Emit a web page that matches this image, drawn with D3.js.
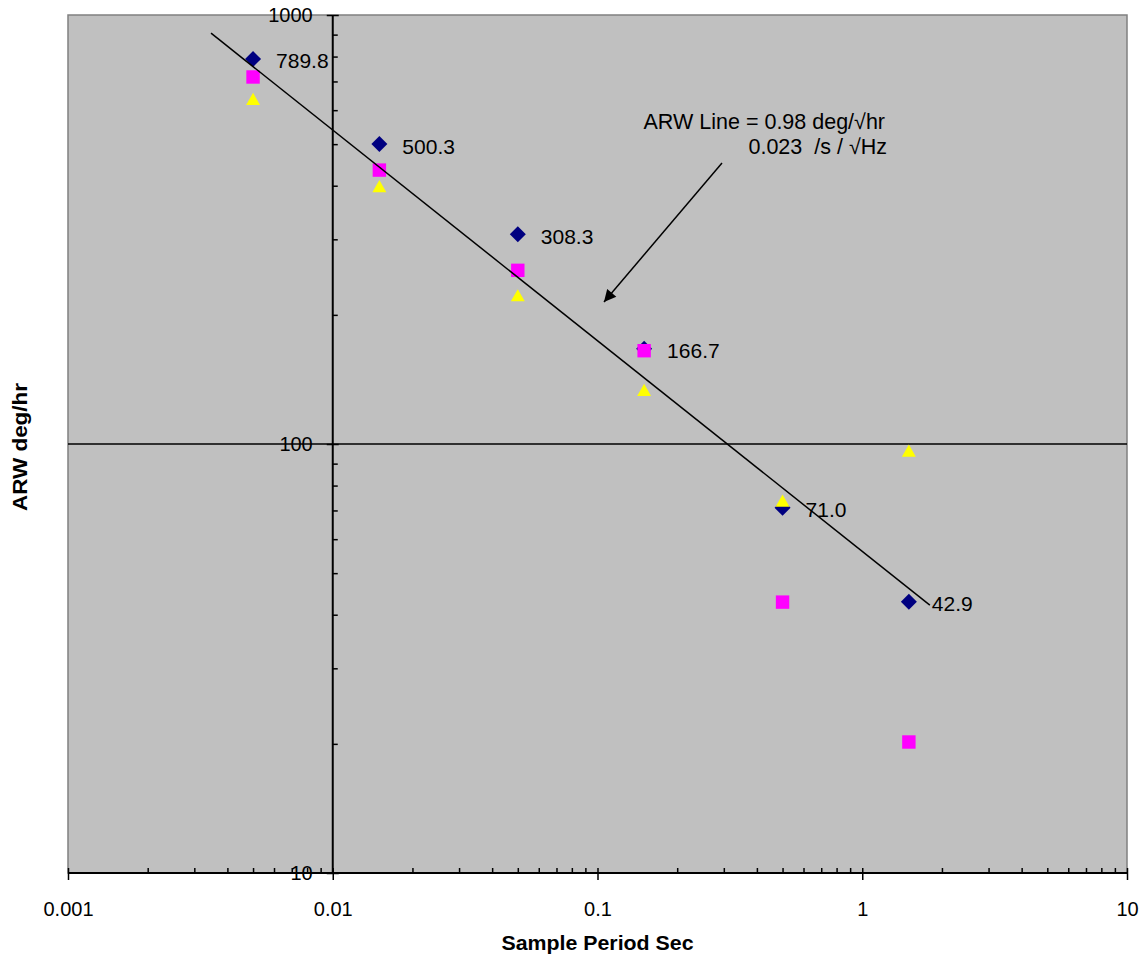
<!DOCTYPE html>
<html>
<head>
<meta charset="utf-8">
<script src="https://cdn.jsdelivr.net/npm/d3@7"></script>
<style>
  html, body { margin: 0; padding: 0; background: #ffffff; }
  svg { display: block; }
  text { font-family: "Liberation Sans", Arial, sans-serif; fill: #000; }
</style>
</head>
<body>
<svg id="chart" width="1145" height="956"></svg>
<script>
// ---- data ----
const samplePeriods = [0.005, 0.015, 0.05, 0.15, 0.5, 1.5];
const seriesDiamond = [789.8, 500.3, 308.3, 166.7, 71.0, 42.9];
const seriesSquare  = [717, 435, 254, 165, 42.8, 20.2];
const seriesTriangle = [634, 397, 221, 133, 73.4, 96];
const diamondLabels = ["789.8", "500.3", "308.3", "166.7", "71.0", "42.9"];
const arwLineX = [0.00347, 1.80];
const arwLineY = [907, 42.1];
const arrowX = [0.2953, 0.1058];
const arrowY = [451.8, 214.3];
const noteLines = ["ARW Line = 0.98 deg/\u221Ahr", "0.023  /s / \u221AHz"];
const noteX = [1.219, 1.240];
const noteY = [542.5, 474];
const xMajorTicks = [0.001, 0.01, 0.1, 1, 10];
const xTickLabels = ["0.001", "0.01", "0.1", "1", "10"];
const yMajorTicks = [10, 100, 1000];
const yTickLabels = ["10", "100", "1000"];
const xTitle = "Sample Period Sec";
const yTitle = "ARW deg/hr";

// ---- layout ----
const L = 68, R = 1127, T = 15, B = 873;
const svg = d3.select("#chart");
const x = d3.scaleLog().domain([0.001, 10]).range([L, R]);
const y = d3.scaleLog().domain([10, 1000]).range([B, T]);

const minorOf = (lo, hi) => {
  const out = [];
  for (let d = lo; d < hi; d *= 10) for (let k = 2; k <= 9; k++) out.push(d * k);
  return out;
};
const xMinor = minorOf(0.001, 10);
const yMinor = minorOf(10, 1000);

// plot area
svg.append("rect").attr("x", L).attr("y", T).attr("width", R - L).attr("height", B - T)
  .attr("fill", "#C0C0C0").attr("stroke", "#808080").attr("stroke-width", 1.5);

// horizontal major gridlines
svg.append("g").selectAll("line").data(yMajorTicks.filter(v => v > 10 && v < 1000)).join("line")
  .attr("x1", L).attr("x2", R).attr("y1", d => y(d)).attr("y2", d => y(d))
  .attr("stroke", "#000").attr("stroke-width", 1.5);

const axisX0 = x(0.01);

function styleAxis(g) {
  g.select(".domain").remove();
  g.selectAll(".tick line").attr("stroke", "#000").attr("stroke-width", 1.5);
  g.selectAll(".tick text").attr("font-size", 20).attr("font-family", '"Liberation Sans", Arial, sans-serif').attr("fill", "#000");
}

// Y axis (crossing at x = 0.01)
svg.append("g").attr("transform", `translate(${axisX0},0)`)
  .call(d3.axisRight(y).tickValues(yMinor).tickSize(5).tickFormat(""))
  .call(styleAxis);
svg.append("g").attr("transform", `translate(${axisX0},0)`)
  .call(d3.axisRight(y).tickValues(yMajorTicks).tickSize(6).tickFormat(""))
  .call(styleAxis);
svg.append("g").attr("transform", `translate(${axisX0},0)`)
  .call(d3.axisLeft(y).tickValues(yMajorTicks).tickSize(6).tickPadding(14)
    .tickFormat((d, i) => yTickLabels[i]))
  .call(styleAxis);
svg.append("line").attr("x1", axisX0).attr("x2", axisX0).attr("y1", T).attr("y2", B)
  .attr("stroke", "#000").attr("stroke-width", 2);

// X axis (bottom)
svg.append("g").attr("transform", `translate(0,${B})`)
  .call(d3.axisTop(x).tickValues(xMinor).tickSize(5).tickFormat(""))
  .call(styleAxis);
svg.append("g").attr("transform", `translate(0,${B})`)
  .call(d3.axisTop(x).tickValues(xMajorTicks).tickSize(5).tickFormat(""))
  .call(styleAxis);
svg.append("g").attr("transform", `translate(0,${B})`)
  .call(d3.axisBottom(x).tickValues(xMajorTicks).tickSize(7).tickPadding(22)
    .tickFormat((d, i) => xTickLabels[i]))
  .call(styleAxis);
svg.append("line").attr("x1", L).attr("x2", R).attr("y1", B).attr("y2", B)
  .attr("stroke", "#000").attr("stroke-width", 2);

// markers
const pts = (vals) => samplePeriods.map((p, i) => ({ p, v: vals[i] }));
svg.append("g").selectAll("path").data(pts(seriesDiamond)).join("path")
  .attr("d", d3.symbol(d3.symbolSquare, 128)())
  .attr("transform", d => `translate(${x(d.p)},${y(d.v)}) rotate(45)`)
  .attr("fill", "#000080");
svg.append("g").selectAll("path").data(pts(seriesSquare)).join("path")
  .attr("d", d3.symbol(d3.symbolSquare, 180)())
  .attr("transform", d => `translate(${x(d.p)},${y(d.v)})`)
  .attr("fill", "#FF00FF");
svg.append("g").selectAll("path").data(pts(seriesTriangle)).join("path")
  .attr("d", d3.symbol(d3.symbolTriangle, 84)())
  .attr("transform", d => `translate(${x(d.p)},${y(d.v) + 1})`)
  .attr("fill", "#FFFF00");

// ARW trend line
const line = d3.line().x(d => x(d[0])).y(d => y(d[1]));
svg.append("path").datum(arwLineX.map((v, i) => [v, arwLineY[i]]))
  .attr("d", line).attr("fill", "none").attr("stroke", "#000").attr("stroke-width", 1.5);

// data labels
svg.append("g").selectAll("text").data(pts(seriesDiamond)).join("text")
  .attr("x", d => x(d.p) + 23).attr("y", d => y(d.v) + 2)
  .attr("dominant-baseline", "central")
  .attr("font-size", 21)
  .text((d, i) => diamondLabels[i]);

// arrow annotation
const defs = svg.append("defs");
defs.append("marker").attr("id", "arrowhead").attr("viewBox", "0 0 10 10")
  .attr("refX", 10).attr("refY", 5).attr("markerWidth", 14).attr("markerHeight", 12)
  .attr("markerUnits", "userSpaceOnUse").attr("orient", "auto")
  .append("path").attr("d", "M0,0 L10,5 L0,10 Z").attr("fill", "#000");
svg.append("path").datum(arrowX.map((v, i) => [v, arrowY[i]]))
  .attr("d", line).attr("fill", "none").attr("stroke", "#000").attr("stroke-width", 1.5)
  .attr("marker-end", "url(#arrowhead)");

svg.append("g").selectAll("text").data(noteLines).join("text")
  .attr("x", (d, i) => x(noteX[i])).attr("y", (d, i) => y(noteY[i]))
  .attr("text-anchor", "end").attr("font-size", 21.5)
  .attr("xml:space", "preserve").style("white-space", "pre")
  .text(d => d);

// axis titles
svg.append("text").attr("x", (x(0.001) + x(10)) / 2).attr("y", 950)
  .attr("text-anchor", "middle").attr("font-size", 21).attr("font-weight", "bold")
  .attr("textLength", 192).attr("lengthAdjust", "spacingAndGlyphs")
  .text(xTitle);
svg.append("text").attr("transform", `translate(27,${(y(10) + y(1000)) / 2 + 3}) rotate(-90)`)
  .attr("text-anchor", "middle").attr("font-size", 21).attr("font-weight", "bold")
  .attr("textLength", 128).attr("lengthAdjust", "spacingAndGlyphs")
  .text(yTitle);
</script>
</body>
</html>
